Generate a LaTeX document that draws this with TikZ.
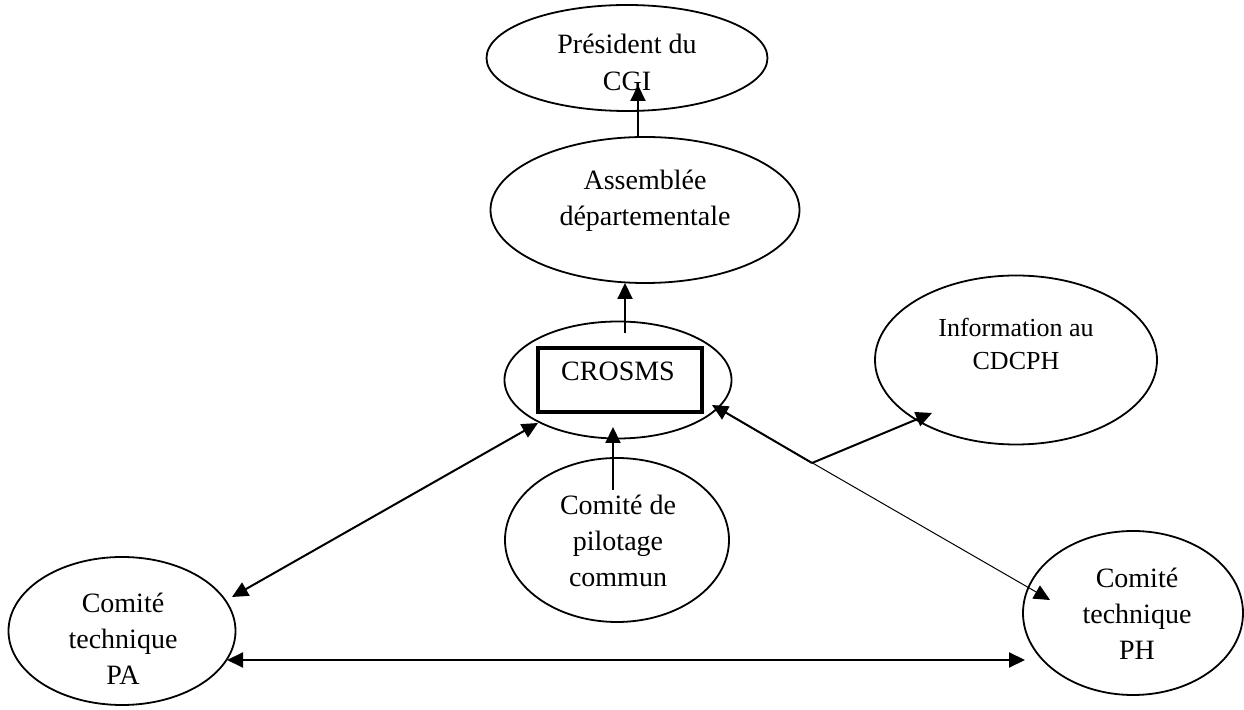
\documentclass[tikz,border=0pt]{standalone}
\usepackage{fontspec}
\setmainfont{Liberation Serif}
\usetikzlibrary{shapes.geometric,arrows.meta,calc}
\begin{document}
\begin{tikzpicture}[x=0.5pt,y=-0.5pt,
  oval/.style={draw,ellipse,inner sep=0pt,line width=0.9pt},
  lbl/.style={align=center,inner sep=0pt,font=\fontsize{14}{18}\selectfont},
  arr/.style={line width=1pt,-{Triangle[length=8pt,width=7.5pt]}},
  darr/.style={line width=1pt,{Triangle[length=8pt,width=7.5pt]}-{Triangle[length=8pt,width=7.5pt]}},
]
\useasboundingbox (0,0) rectangle (1244,710);
% shapes
\node[oval,minimum width=140.5pt,minimum height=53pt] (pres) at (627,58) {};
\node[oval,minimum width=154.5pt,minimum height=73pt] (ass) at (645,210) {};
\node[oval,minimum width=113.5pt,minimum height=58.5pt] (cros) at (618,380) {};
\node[draw,rectangle,line width=1.8pt,inner sep=0pt,minimum width=82pt,minimum height=32pt] (box) at (620,380) {};
\node[oval,minimum width=141pt,minimum height=84.5pt] (info) at (1016,360) {};
\node[oval,minimum width=112pt,minimum height=82pt] (pil) at (617,540) {};
\node[oval,minimum width=113.5pt,minimum height=74pt] (pa) at (122,631) {};
\node[oval,minimum width=110pt,minimum height=82pt] (ph) at (1133,613) {};
% texts
\node[lbl,font=\fontsize{14}{18.5}\selectfont] (tpres) at (627,62) {Président du\\CGI};
\node[lbl] (tass) at (645,201) {Assemblée\\départementale};
\node[lbl] (tcros) at (618,371) {CROSMS};
\node[lbl,font=\fontsize{13}{16.5}\selectfont] (tinfo) at (1016,344) {Information au\\CDCPH};
\node[lbl] (tpil) at (618,541) {Comité de\\pilotage\\commun};
\node[lbl] (tpa) at (123,639) {Comité\\technique\\PA};
\node[lbl] (tph) at (1137,614) {Comité\\technique\\PH};
% connectors
\draw[arr] ($(ass)+(-7,-73)$) -- ($(pres)+(11,27)$);
\draw[arr] ($(cros)+(7,-47)$) -- ($(ass)+(-20,73)$);
\draw[arr] ($(pil)+(-4,-50)$) -- ($(cros)+(-5,47)$);
\draw[darr] ($(pa)+(110,-34)$) -- ($(cros)+(-80,43)$);
\draw[darr,line width=0.5pt] ($(cros)+(94,25)$) -- ($(ph)+(-83,-13)$);
\coordinate (br) at ($(cros)+(194,83)$);
\draw[line width=1pt] (br) -- ($(cros)+(100,28)$);
\draw[arr] (br) -- ($(info)+(-84,53)$);
\draw[darr] ($(pa)+(105,29)$) -- ($(ph)+(-108,47)$);
\end{tikzpicture}
\end{document}
